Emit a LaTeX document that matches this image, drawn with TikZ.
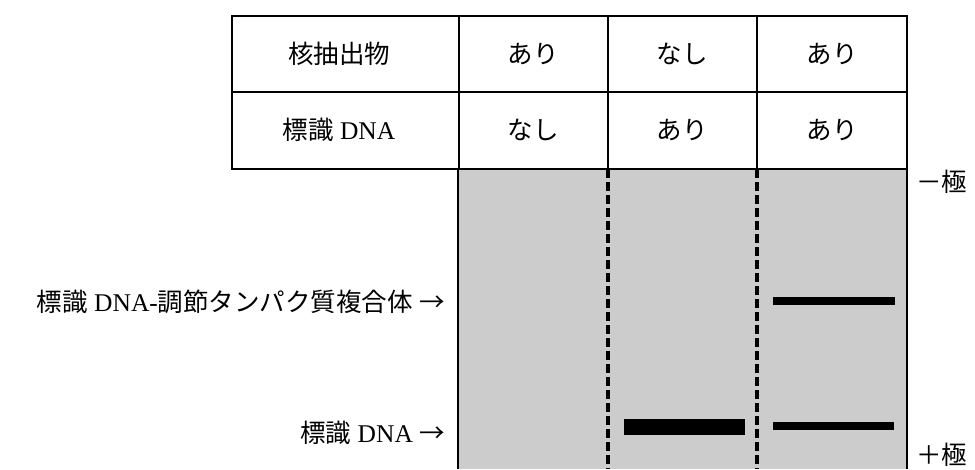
\documentclass[tikz,border=0pt]{standalone}
\usepackage{fontspec}
\setmainfont{Liberation Serif}
\newfontfamily\cjk{Noto Sans CJK JP}
\begin{document}
\begin{tikzpicture}[x=1pt,y=-1pt,
  txt/.style={inner sep=0pt,font=\fontsize{25.5}{29}\selectfont},
  frame/.style={draw=black,line width=2.4pt},
  gel/.style={fill=black!20,draw=none},
  lanesep/.style={draw=black,line width=3.2pt,dash pattern=on 9pt off 4pt},
  band/.style={fill=black,draw=none}]
\useasboundingbox (0,0) rectangle (975,469);
% gel
\fill[gel] (458,169) rectangle (907,469);
\draw[lanesep] (608,169) -- (608,469);
\draw[lanesep] (757,169) -- (757,469);
\draw[line width=2.8pt] (458,169) -- (458,469);
\draw[line width=2.8pt] (907,169) -- (907,469);
% table
\draw[frame] (232,16) rectangle (907,169);
\draw[frame] (232,92) -- (907,92);
\draw[frame] (459,16) -- (459,169);
\draw[frame] (608,16) -- (608,169);
\draw[frame] (757,16) -- (757,169);
\node[txt] (h1) at (339,54) {\cjk 核抽出物};
\node[txt] (h2) at (339,130) {{\cjk 標識} DNA};
\node[txt] (a1) at (533,54) {\cjk あり};
\node[txt] (a2) at (682,54) {\cjk なし};
\node[txt] (a3) at (832,54) {\cjk あり};
\node[txt] (b1) at (533,130) {\cjk なし};
\node[txt] (b2) at (682,130) {\cjk あり};
\node[txt] (b3) at (832,130) {\cjk あり};
% bands
\node[band,minimum width=122pt,minimum height=8pt] (c3) at (834,301) {};
\node[band,minimum width=121pt,minimum height=16pt] (d2) at (684.5,427) {};
\node[band,minimum width=121pt,minimum height=8pt] (d3) at (833.5,426) {};
% labels
\node[txt,anchor=east] (lc) at (445,302) {{\cjk 標識} DNA-{\cjk 調節タンパク質複合体}\ {\cjk →}};
\node[txt,anchor=east] (ld) at (445,433) {{\cjk 標識} DNA\ {\cjk →}};
\node[txt,anchor=west] (neg) at (916,182) {\cjk －極};
\node[txt,anchor=west] (pos) at (916,455) {\cjk ＋極};
\end{tikzpicture}
\end{document}
